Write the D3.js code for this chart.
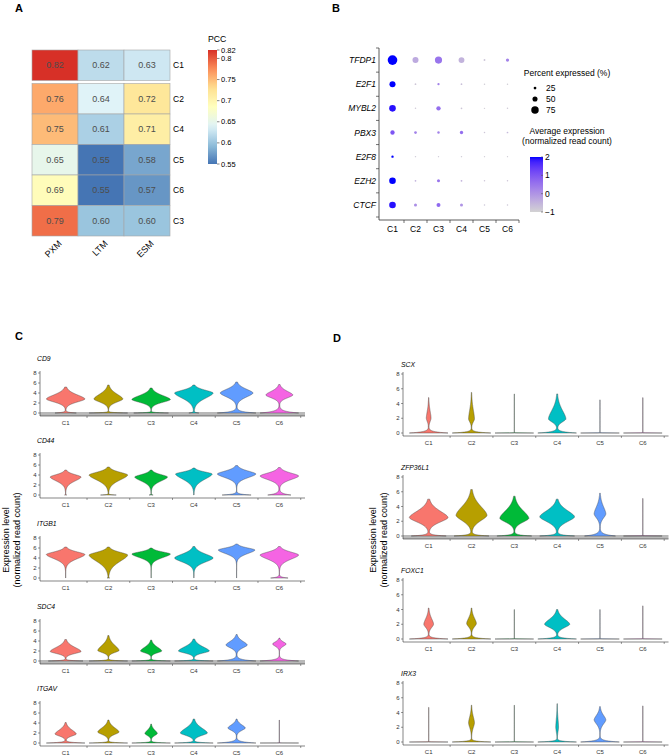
<!DOCTYPE html>
<html><head><meta charset="utf-8">
<script src="https://cdn.jsdelivr.net/npm/d3@7"></script>
<style>body{margin:0;background:#fff}svg text{font-family:"Liberation Sans",Arial,sans-serif}</style>
</head><body><svg id="c" width="669" height="755"></svg>
<script>
// ---------- Panel A data ----------
const hmRows = ["C1","C2","C4","C5","C6","C3"];
const hmCols = ["PXM","LTM","ESM"];
const pxm = [0.82,0.76,0.75,0.65,0.69,0.79];
const ltm = [0.62,0.64,0.61,0.55,0.55,0.60];
const esm = [0.63,0.72,0.71,0.58,0.57,0.60];
const pccTicks = [0.55,0.6,0.65,0.7,0.75,0.8,0.82];
const rdylbu = ["#4575B4","#91BFDB","#E0F3F8","#FFFFBF","#FEE090","#FC8D59","#D73027"];

// ---------- Panel B data ----------
const dotGenes = ["TFDP1","E2F1","MYBL2","PBX3","E2F8","EZH2","CTCF"];
const clusters = ["C1","C2","C3","C4","C5","C6"];
const pctExpressed = [
  [98,60,72,58,16,30],
  [60,14,20,14,12,12],
  [66,12,42,14,11,12],
  [42,25,22,31,12,14],
  [21,11,10,11,10,10],
  [66,14,28,15,12,12],
  [66,28,38,28,12,12]
];
const avgExpression = [
  [2.0,-0.35,0.5,-0.5,-0.8,0.3],
  [2.0,-0.8,0.3,-0.7,-0.9,-0.9],
  [1.9,-0.85,0.6,-0.8,-0.9,-0.85],
  [1.0,0.3,0.3,0.6,-0.8,-0.6],
  [2.0,-0.85,-0.85,-0.85,-0.9,-0.9],
  [2.0,-0.5,0.5,-0.5,-0.8,-0.8],
  [1.9,0.1,0.7,0.0,-0.8,-0.8]
];
const pctLegend = [25,50,75];
const avgTicks = [-1,0,1,2];

// ---------- Panels C / D data: per cluster [mode, bodyWidth, bodyLow, max, zeroWidth, zeroHeight] ----------
const clusterColors = ["#F8766D","#B79F00","#00BA38","#00BFC4","#619CFF","#F564E3"];
const violinTicks = [0,2,4,6,8];
const genesC = ["CD9","CD44","ITGB1","SDC4","ITGAV"];
const genesD = ["SCX","ZFP36L1","FOXC1","IRX3"];
const zeroBandGenes = ["CD9","SDC4","ZFP36L1"];
const vCD9 = [[2.8,1.0,1.3,5.2,0.55,0.4],[2.8,0.75,1.3,5.6,1.0,0.25],[2.7,1.0,1.3,5.0,0.9,0.25],[4.0,1.0,1.4,5.6,0.25,0.35],[4.0,0.85,2.0,6.2,1.0,0.8],[3.6,0.7,2.2,5.7,1.0,1.0]];
const vCD44 = [[3.6,0.8,1.6,5.0,0.05,0.2],[4.0,1.0,1.5,5.6,0.4,0.2],[3.6,0.85,1.6,5.0,0.1,0.2],[4.2,0.95,1.6,5.4,0.0,0.2],[4.2,1.0,2.4,5.9,0.75,0.5],[3.8,1.0,2.0,5.5,0.6,0.9]];
const vITGB1 = [[4.7,1.0,2.6,6.2,0.0,0.2],[4.6,1.0,1.4,6.2,0.05,0.2],[4.8,1.0,3.0,6.0,0.0,0.2],[4.0,1.0,2.0,6.3,0.0,0.2],[5.6,0.95,3.8,6.8,0.0,0.2],[4.6,1.0,2.5,6.3,0.45,0.5]];
const vSDC4 = [[1.9,0.8,0.9,4.3,0.9,0.3],[2.1,0.55,1.1,5.1,1.0,0.3],[2.0,0.55,1.1,4.2,1.0,0.3],[2.0,0.8,1.0,4.4,1.0,0.3],[3.2,0.55,1.8,5.3,1.0,0.8],[3.4,0.35,2.3,4.6,1.0,0.7]];
const vITGAV = [[1.8,0.55,0.8,4.1,1.0,0.4],[2.2,0.55,1.0,4.6,1.0,0.3],[1.9,0.32,0.9,3.8,1.0,0.3],[2.0,0.7,0.8,4.8,1.0,0.35],[3.0,0.45,1.8,4.8,1.0,0.7],[0,0,0,4.6,1.0,0.03]];
const vSCX = [[2.0,0.12,0.9,4.8,1.0,0.5],[1.9,0.15,0.9,5.5,1.0,0.4],[0,0,0,5.3,1.0,0.03],[1.9,0.45,0.9,5.3,1.0,0.5],[0,0,0,4.5,1.0,0.03],[0,0,0,4.8,1.0,0.03]];
const vZFP36L1 = [[2.5,1.0,1.0,5.0,0.9,0.4],[2.8,0.8,1.0,6.3,0.9,0.4],[2.4,0.75,1.1,5.4,0.9,0.4],[2.6,0.9,1.0,5.0,0.9,0.4],[3.0,0.3,1.6,5.8,0.8,0.7],[0,0,0,5.1,1.0,0.03]];
const vFOXC1 = [[2.0,0.25,0.9,4.2,1.0,0.4],[2.1,0.25,1.0,4.2,1.0,0.4],[0,0,0,4.0,1.0,0.03],[2.0,0.65,0.9,4.0,1.0,0.4],[0,0,0,4.0,1.0,0.03],[0,0,0,4.5,1.0,0.03]];
const vIRX3 = [[0,0,0,4.7,1.0,0.03],[2.6,0.15,1.0,5.0,1.0,0.3],[0,0,0,5.0,1.0,0.03],[2.0,0.07,0.5,5.2,1.0,0.3],[3.0,0.3,1.6,4.8,1.0,0.5],[0,0,0,4.9,1.0,0.03]];

const svg = d3.select("#c");

// panel letters
[["A",15,12],["B",332,12],["C",15,340],["D",333,342]].forEach(([t,x,y])=>{
  svg.append("text").attr("x",x).attr("y",y).attr("font-size",11).attr("font-weight","bold").text(t);
});

// ================= Panel A =================
(function(){
  const g = svg.append("g");
  const vals = hmRows.map((r,i)=>[pxm[i],ltm[i],esm[i]]);
  const hx = d3.scaleBand().domain(hmCols).range([32,170]);
  const hyB = d3.scaleBand().domain(hmRows).range([50,233]);
  const hy = r => hyB(r) + (hmRows.indexOf(r) > 0 ? 3 : 0);
  const stops = d3.range(rdylbu.length).map(i=>0.55 + i*(0.82-0.55)/(rdylbu.length-1));
  const col = d3.scaleLinear().domain(stops).range(rdylbu).interpolate(d3.interpolateRgb).clamp(true);
  hmRows.forEach((r,i)=>{
    hmCols.forEach((c,j)=>{
      const v = vals[i][j];
      g.append("rect").attr("x",hx(c)).attr("y",hy(r)).attr("width",hx.bandwidth()).attr("height",hyB.bandwidth())
        .attr("fill",col(v)).attr("stroke","#a6a6a6").attr("stroke-width",0.6);
      g.append("text").attr("x",hx(c)+hx.bandwidth()/2).attr("y",hy(r)+hyB.bandwidth()/2)
        .attr("text-anchor","middle").attr("dominant-baseline","central").attr("font-size",9).attr("fill","#4d4d4d")
        .text(v.toFixed(2));
    });
    g.append("text").attr("x",173).attr("y",hy(r)+hyB.bandwidth()/2).attr("dominant-baseline","central")
      .attr("font-size",8.5).text(r);
  });
  hmCols.forEach(c=>{
    g.append("text").attr("transform",`translate(${hx(c)+hx.bandwidth()/2+5},${242}) rotate(-45)`)
      .attr("text-anchor","end").attr("font-size",9).attr("dy","0.35em").text(c);
  });
  // legend
  const ly = d3.scaleLinear().domain([0.55,0.82]).range([164,50]);
  const defs = svg.append("defs");
  const grad = defs.append("linearGradient").attr("id","pccg").attr("x1",0).attr("x2",0).attr("y1",1).attr("y2",0);
  d3.range(0,1.0001,0.05).forEach(t=>{
    grad.append("stop").attr("offset",t).attr("stop-color",col(0.55+t*0.27));
  });
  g.append("rect").attr("x",208).attr("y",ly(0.82)).attr("width",9).attr("height",ly(0.55)-ly(0.82)).attr("fill","url(#pccg)");
  g.append("text").attr("x",208).attr("y",42).attr("font-size",8.7).text("PCC");
  pccTicks.forEach(t=>{
    g.append("line").attr("x1",217).attr("x2",219.5).attr("y1",ly(t)).attr("y2",ly(t)).attr("stroke","#333").attr("stroke-width",0.6);
    g.append("text").attr("x",221).attr("y",ly(t)).attr("dominant-baseline","central").attr("font-size",7.5).text(String(t));
  });
})();

// ================= Panel B =================
(function(){
  const g = svg.append("g");
  const bx = d3.scaleBand().domain(clusters).range([381,519]);
  const by = d3.scaleBand().domain(dotGenes).range([48,217]);
  const r = d3.scaleLinear().domain([0,100]).range([0.2,4.9]);
  const cs = d3.scaleLinear().domain([-1,2]).range(["lightgrey","blue"]).interpolate(d3.interpolateLab).clamp(true);
  dotGenes.forEach((gn,i)=>{
    clusters.forEach((c,j)=>{
      g.append("circle").attr("cx",bx(c)+bx.bandwidth()/2).attr("cy",by(gn)+by.bandwidth()/2)
        .attr("r",r(pctExpressed[i][j])).attr("fill",cs(avgExpression[i][j]));
    });
    g.append("text").attr("x",376).attr("y",by(gn)+by.bandwidth()/2).attr("text-anchor","end")
      .attr("dominant-baseline","central").attr("font-size",8.5).attr("font-style","italic").text(gn);
  });
  // axes
  g.append("line").attr("x1",379).attr("x2",379).attr("y1",48).attr("y2",220).attr("stroke","#333").attr("stroke-width",0.8);
  g.append("line").attr("x1",379).attr("x2",519).attr("y1",220).attr("y2",220).attr("stroke","#333").attr("stroke-width",0.8);
  dotGenes.forEach(gn=>{
    g.append("line").attr("x1",376).attr("x2",379).attr("y1",by(gn)+by.bandwidth()).attr("y2",by(gn)+by.bandwidth()).attr("stroke","#333").attr("stroke-width",0.7);
  });
  g.append("line").attr("x1",376).attr("x2",379).attr("y1",by(dotGenes[0])).attr("y2",by(dotGenes[0])).attr("stroke","#333").attr("stroke-width",0.7);
  clusters.forEach(c=>{
    const e = bx(c)+bx.bandwidth();
    g.append("line").attr("x1",e).attr("x2",e).attr("y1",220).attr("y2",223).attr("stroke","#333").attr("stroke-width",0.7);
    g.append("text").attr("x",bx(c)+bx.bandwidth()/2).attr("y",232).attr("text-anchor","middle").attr("font-size",8.5).text(c);
  });
  // size legend
  g.append("text").attr("x",567).attr("y",76).attr("text-anchor","middle").attr("font-size",8.5).text("Percent expressed (%)");
  const ly = d3.scaleBand().domain(pctLegend).range([82.5,115.5]);
  pctLegend.forEach(p=>{
    g.append("circle").attr("cx",535).attr("cy",ly(p)+ly.bandwidth()/2).attr("r",r(p)).attr("fill","#000");
    g.append("text").attr("x",546).attr("y",ly(p)+ly.bandwidth()/2).attr("dominant-baseline","central").attr("font-size",8.5).text(p);
  });
  // colour legend
  g.append("text").attr("x",567).attr("y",134).attr("text-anchor","middle").attr("font-size",8.5).text("Average expression");
  g.append("text").attr("x",567).attr("y",144).attr("text-anchor","middle").attr("font-size",8.5).text("(normalized read count)");
  const cy = d3.scaleLinear().domain([-1,2]).range([212,157]);
  const grad = svg.select("defs").append("linearGradient").attr("id","avgg").attr("x1",0).attr("x2",0).attr("y1",1).attr("y2",0);
  d3.range(0,1.0001,0.05).forEach(t=>grad.append("stop").attr("offset",t).attr("stop-color",cs(-1+3*t)));
  g.append("rect").attr("x",530).attr("y",cy(2)).attr("width",13).attr("height",cy(-1)-cy(2)).attr("fill","url(#avgg)");
  avgTicks.forEach(t=>{
    g.append("line").attr("x1",541).attr("x2",543).attr("y1",cy(t)).attr("y2",cy(t)).attr("stroke","#555").attr("stroke-width",0.6);
    g.append("text").attr("x",545).attr("y",cy(t)).attr("dominant-baseline","central").attr("font-size",8.5).text(t<0?"\u2212"+Math.abs(t):t);
  });
})();

// ================= Violin panels =================
function widthAt(y,p){
  const [m,w,lo,hi,z,zh] = p;
  let b = 0;
  if (w > 0){
    const s = y < m ? Math.max((m-lo)/2.5,0.12) : Math.max((hi-m)/2.9,0.12);
    b = w*Math.exp(-0.5*Math.pow(Math.abs(y-m)/s,1.7));
  }
  const sp = z*Math.exp(-3*y/Math.max(zh,0.02));
  return Math.min(1,b+sp) + 0.003;
}
function violinPanel(genes, datasets, o){
  genes.forEach((gn,gi)=>{
    const g = svg.append("g");
    const base = o.bases[gi];
    const ys = d3.scaleLinear().domain([0,8]).range([base, base-o.h]);
    const xs = d3.scalePoint().domain(clusters).range([o.x0,o.x1]).padding(0.6);
    const step = xs.step();
    const half = step*0.9/2;
    const axisY = base+3;
    if (zeroBandGenes.includes(gn)){
      g.append("rect").attr("x",o.x0).attr("y",ys(0)-1).attr("width",o.x1-o.x0).attr("height",axisY-ys(0)+1).attr("fill","#b8b8b8");
    }
    datasets[gi].forEach((p,ci)=>{
      const pts = d3.range(0,p[3]+1e-9,0.02).map(y=>({y, w:widthAt(y,p)}));
      pts.push({y:p[3], w:0.003});
      const cx = xs(clusters[ci]);
      const area = d3.area().x0(d=>cx-d.w*half).x1(d=>cx+d.w*half).y(d=>ys(d.y));
      g.append("path").attr("d",area(pts)).attr("fill",clusterColors[ci]).attr("stroke","#4a4a4a").attr("stroke-width",0.45);
    });
    // axes
    g.append("line").attr("x1",o.x0).attr("x2",o.x0).attr("y1",ys(8)-2).attr("y2",axisY).attr("stroke","#333").attr("stroke-width",0.6);
    g.append("line").attr("x1",o.x0).attr("x2",o.x1).attr("y1",axisY).attr("y2",axisY).attr("stroke","#333").attr("stroke-width",0.6);
    violinTicks.forEach(t=>{
      g.append("line").attr("x1",o.x0-2).attr("x2",o.x0).attr("y1",ys(t)).attr("y2",ys(t)).attr("stroke","#333").attr("stroke-width",0.5);
      g.append("text").attr("x",o.x0-3.5).attr("y",ys(t)).attr("text-anchor","end").attr("dominant-baseline","central")
        .attr("font-size",6).attr("fill","#333").text(t);
    });
    clusters.forEach((c,ci)=>{
      const edge = xs(c)+step/2;
      g.append("line").attr("x1",edge).attr("x2",edge).attr("y1",axisY).attr("y2",axisY+2).attr("stroke","#333").attr("stroke-width",0.5);
      g.append("text").attr("x",xs(c)).attr("y",base+12).attr("text-anchor","middle").attr("font-size",6).attr("fill","#333").text(c);
    });
    g.append("text").attr("x",o.titleX).attr("y",base+o.titleDy).attr("font-size",6.8).attr("font-style","italic").text(gn);
  });
  // y axis title
  const t = svg.append("text").attr("transform",`translate(${o.labX},540) rotate(-90)`).attr("text-anchor","middle").attr("font-size",9);
  t.append("tspan").attr("x",0).attr("y",0).text("Expression level");
  t.append("tspan").attr("x",0).attr("y",11).text("(normalized read count)");
}
violinPanel(genesC,[vCD9,vCD44,vITGB1,vSDC4,vITGAV],{x0:40,x1:305,bases:[413,495,578,661,743],h:40,titleX:37,titleDy:-52,labX:9});
violinPanel(genesD,[vSCX,vZFP36L1,vFOXC1,vIRX3],{x0:403,x1:668.5,bases:[433,536,639,742],h:59,titleX:401,titleDy:-66,labX:376});
</script></body></html>
